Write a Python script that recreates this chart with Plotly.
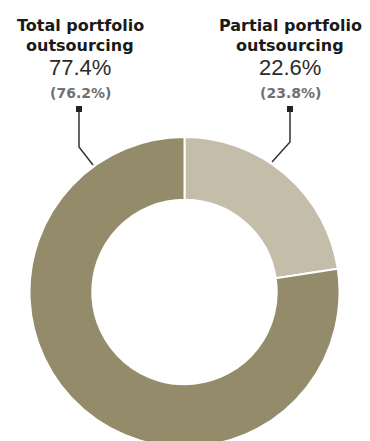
import plotly.graph_objects as go

# Data
categories = ["Partial portfolio<br>outsourcing", "Total portfolio<br>outsourcing"]
title_lines = [["Partial portfolio", "outsourcing"], ["Total portfolio", "outsourcing"]]
values = [22.6, 77.4]
previous_values = [23.8, 76.2]
colors = ["#c4bdaa", "#938b6a"]

W, H = 370, 447


def px(x):
    return x / W


def py(y):
    return 1 - y / H


fig = go.Figure()
cx, cy, r = 184.5, 292, 155
fig.add_trace(go.Pie(
    labels=categories,
    values=values,
    sort=False,
    direction="clockwise",
    rotation=0,
    hole=0.595,
    marker=dict(colors=colors, line=dict(color="white", width=2)),
    textinfo="none",
    hoverinfo="label+percent",
    showlegend=False,
    domain=dict(x=[px(cx - r), px(cx + r)], y=[py(cy + r), py(cy - r)]),
))

annotations = []
label_x = [290, 80]
title_font = dict(family="DejaVu Sans", size=16, color="#1a1a1a", weight="bold")
for i in range(2):
    xc = label_x[i]
    for text, ymid, font in [
        (title_lines[i][0], 26, title_font),
        (title_lines[i][1], 45.5, title_font),
        (f"{values[i]:.1f}%", 68, dict(family="Liberation Sans", size=22, color="#2b2b2b")),
        (f"({previous_values[i]:.1f}%)", 92.5, dict(family="DejaVu Sans", size=14, color="#707070", weight="bold")),
    ]:
        annotations.append(dict(
            x=px(xc), y=py(ymid), xref="paper", yref="paper",
            text=text, showarrow=False, xanchor="center", yanchor="middle",
            font=font,
        ))

shapes = []
# leader lines (pixel positions converted to paper)
leaders = [
    [(290, 109), (290, 142), (272, 162)],
    [(79, 109), (79, 147), (93, 165)],
]
for pts in leaders:
    path = "M " + " L ".join(f"{px(x):.5f},{py(y):.5f}" for x, y in pts)
    shapes.append(dict(type="path", path=path, xref="paper", yref="paper",
                       line=dict(color="#333333", width=1.5)))
    x0, y0 = pts[0]
    shapes.append(dict(type="rect", xref="paper", yref="paper",
                       x0=px(x0 - 3), x1=px(x0 + 3), y0=py(y0 + 3), y1=py(y0 - 3),
                       fillcolor="#222222", line=dict(width=0)))

fig.update_layout(
    width=W, height=H,
    margin=dict(l=0, r=0, t=0, b=0),
    paper_bgcolor="white",
    plot_bgcolor="white",
    annotations=annotations,
    shapes=shapes,
)

fig.write_html(
    "out.html",
    config={"displayModeBar": False},
    post_script="document.documentElement.style.overflow='hidden';document.body.style.overflow='hidden';",
)
